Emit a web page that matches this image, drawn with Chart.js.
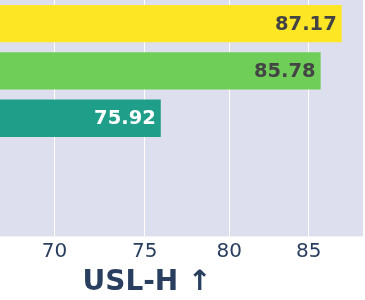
<!DOCTYPE html>
<html>
<head>
<meta charset="utf-8">
<script src="https://cdn.jsdelivr.net/npm/chart.js@4"></script>
<style>
  html, body { margin: 0; padding: 0; background: #fff; }
  #wrap { position: relative; width: 365px; height: 300px; overflow: hidden; }
  #usl_BarChart { position: absolute; left: -69px; top: 0; }
</style>
</head>
<body>
<div id="wrap"><canvas id="usl_BarChart" width="434" height="300"></canvas></div>
<script>
// categories top -> bottom; the bottom two bars fall outside the visible part
const models = ['A', 'B', 'C', 'D', 'E'];
const uslScores = [87.17, 85.78, 75.92, null, null];
const barColors = ['#fde725', '#6ece58', '#1f9e89', '#31688e', '#482878'];
const labelColors = ['#444444', '#444444', '#ffffff', '#ffffff', '#ffffff'];
const xTicks = [70, 75, 80, 85];

document.addEventListener('DOMContentLoaded', () => {
  const plotBg = {
    id: 'plotBg',
    beforeDraw(chart) {
      const { ctx, chartArea: a } = chart;
      ctx.save();
      ctx.fillStyle = '#dddfee';
      ctx.fillRect(a.left, a.top, a.right - a.left, a.bottom - a.top);
      ctx.restore();
    }
  };

  const barLabels = {
    id: 'barLabels',
    afterDatasetsDraw(chart) {
      const { ctx } = chart;
      const meta = chart.getDatasetMeta(0);
      ctx.save();
      ctx.font = 'bold 19.5px "DejaVu Sans"';
      ctx.textAlign = 'right';
      ctx.textBaseline = 'middle';
      meta.data.forEach((bar, i) => {
        const v = uslScores[i];
        if (v == null) return;
        ctx.fillStyle = labelColors[i];
        ctx.fillText(v.toFixed(2), bar.x - 5, bar.y + 1);
      });
      ctx.restore();
    }
  };

  const ctx = document.getElementById('usl_BarChart').getContext('2d');
  new Chart(ctx, {
    type: 'bar',
    data: {
      labels: models,
      datasets: [{
        data: uslScores,
        backgroundColor: barColors,
        borderWidth: 0,
        barPercentage: 0.79,
        categoryPercentage: 1
      }]
    },
    options: {
      indexAxis: 'y',
      responsive: false,
      animation: false,
      layout: { padding: { left: 0, right: 2, top: 0, bottom: 0 } },
      plugins: { legend: { display: false }, tooltip: { enabled: false } },
      scales: {
        y: { display: false },
        x: {
          type: 'logarithmic',
          min: 63.7,
          max: 88.6,
          afterBuildTicks(scale) {
            scale.ticks = xTicks.map(v => ({ value: v }));
          },
          border: { display: false },
          grid: { color: '#ffffff', lineWidth: 1, drawTicks: false },
          ticks: {
            padding: 3,
            color: '#2a3f5f',
            font: { family: 'DejaVu Sans', size: 20 },
            maxRotation: 0,
            callback: v => String(v)
          },
          title: {
            display: true,
            text: 'USL-H ↑',
            color: '#2a3f5f',
            font: { family: 'DejaVu Sans', size: 28, weight: 'bold' },
            padding: { top: 0, bottom: 0 }
          }
        }
      }
    },
    plugins: [plotBg, barLabels]
  });
});
</script>
</body>
</html>
